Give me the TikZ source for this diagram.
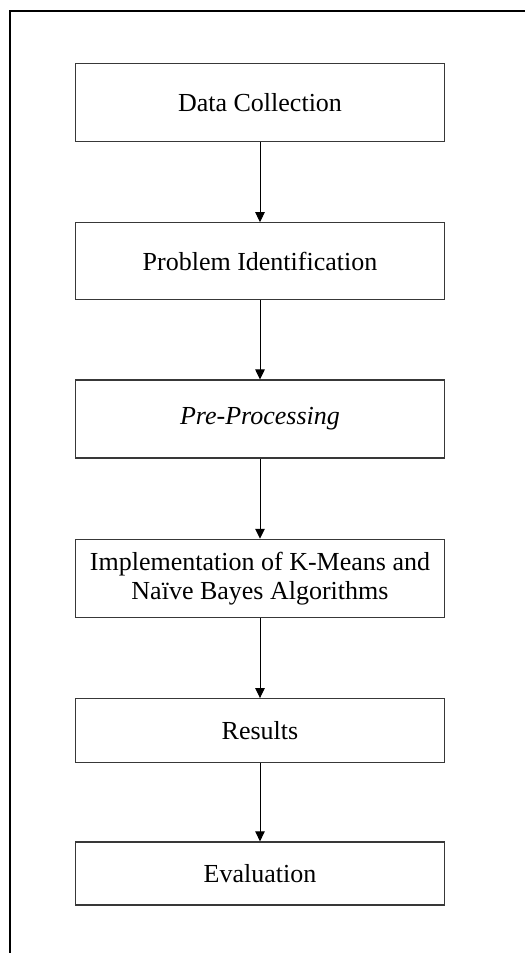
\documentclass[tikz,border=0pt]{standalone}
\usepackage{fontspec}
\setmainfont{Liberation Serif}
\usepackage{tikz}
\usetikzlibrary{arrows.meta}
\usetikzlibrary{positioning}
\definecolor{box-gray}{HTML}{383838}

\begin{document}
\begin{tikzpicture}[x=1pt,y=1pt,
		stagebox/.style={rectangle,draw=box-gray,line width=1.3pt,minimum width=369pt,minimum height=78pt,inner sep=0pt,align=center,font=\fontsize{26}{29}\selectfont},
		flowarrow/.style={-{Triangle[length=10pt,width=9.5pt]},line width=1pt}]
		
		\useasboundingbox (0,0) rectangle (525,-953);
		
		%--- OUTER FRAME ------------------------
		
		\draw [line width=1.3pt] (10,-953) -- (10,-11) -- (525,-11);
		
		%--- STAGES -----------------------------
		
		\node [stagebox] (collect) at (260,-102.5) {Data Collection};
		\node [stagebox,below=80pt of collect,minimum height=77pt] (problem) {Problem Identification};
		\node [stagebox,below=79pt of problem] (preproc) {\textit{Pre-Processing}};
		\node [stagebox,below=80pt of preproc] (implement) {Implementation of K-Means and\\Naïve Bayes Algorithms};
		\node [stagebox,below=80pt of implement,minimum height=64pt] (results) {Results};
		\node [stagebox,below=78pt of results,minimum height=63pt] (evaluate) {Evaluation};
		
		%--- ARROWS -----------------------------
		
		\draw [flowarrow] (collect) -- (problem);
		\draw [flowarrow] (problem) -- (preproc);
		\draw [flowarrow] (preproc) -- (implement);
		\draw [flowarrow] (implement) -- (results);
		\draw [flowarrow] (results) -- (evaluate);
		
\end{tikzpicture}
\end{document}
